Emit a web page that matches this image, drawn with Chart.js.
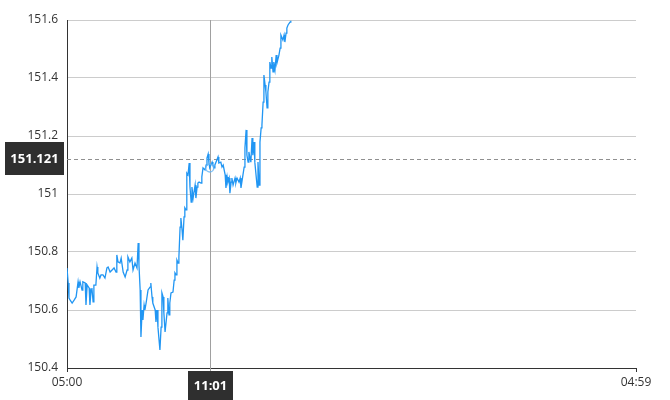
<!DOCTYPE html>
<html>
<head>
<meta charset="utf-8">
<script src="https://cdn.jsdelivr.net/npm/chart.js@4/dist/chart.umd.min.js"></script>
<style>
    html, body { margin: 0; padding: 0; background: #fff; }
    #wrap { width: 670px; height: 400px; }
</style>
</head>
<body>
<div id="wrap"><canvas id="chart"></canvas></div>
<script>
// minutes after 05:00
const minutes = [
    0, 3, 5, 8, 13, 18, 23, 28, 30, 33, 38, 40, 46, 48, 51, 56, 58, 61, 63, 66,
    68, 73, 76, 78, 83, 86, 91, 96, 101, 104, 109, 111, 114, 119, 124, 126, 129, 134, 137, 142,
    147, 152, 154, 159, 164, 167, 172, 177, 180, 182, 185, 187, 190, 192, 195, 197, 200, 205, 210, 212,
    215, 217, 223, 225, 228, 230, 235, 238, 240, 243, 245, 248, 253, 255, 258, 260, 263, 268, 271, 273,
    276, 278, 281, 283, 286, 288, 291, 293, 296, 298, 301, 303, 306, 309, 311, 314, 316, 319, 324, 326,
    329, 331, 334, 339, 341, 344, 349, 352, 354, 357, 359, 361, 367, 369, 372, 374, 379, 382, 384, 389,
    392, 395, 400, 402, 405, 407, 410, 412, 415, 417, 420, 425, 427, 430, 435, 438, 440, 445, 448, 450,
    453, 455, 458, 460, 463, 465, 468, 470, 473, 475, 481, 483, 486, 488, 491, 493, 496, 498, 501, 503,
    506, 508, 511, 513, 516, 518, 521, 523, 526, 529, 531, 536, 539, 541, 546, 549, 551, 554, 556, 559,
    564, 566
];

const prices = [
    150.745, 150.693, 150.641, 150.634, 150.624, 150.634, 150.645, 150.697, 150.676, 150.697,
    150.669, 150.697, 150.693, 150.617, 150.686, 150.676, 150.617, 150.669, 150.676, 150.628,
    150.686, 150.686, 150.748, 150.728, 150.710, 150.721, 150.721, 150.710, 150.745, 150.748,
    150.731, 150.731, 150.738, 150.745, 150.731, 150.790, 150.766, 150.762, 150.779, 150.731,
    150.714, 150.738, 150.783, 150.766, 150.779, 150.738, 150.762, 150.745, 150.831, 150.755,
    150.669, 150.507, 150.600, 150.566, 150.617, 150.600, 150.624, 150.669, 150.679, 150.693,
    150.645, 150.624, 150.600, 150.559, 150.600, 150.541, 150.462, 150.541, 150.659, 150.645,
    150.590, 150.524, 150.590, 150.641, 150.583, 150.624, 150.659, 150.662, 150.703, 150.728,
    150.721, 150.772, 150.762, 150.783, 150.886, 150.917, 150.876, 150.841, 150.921, 150.952,
    150.945, 151.072, 151.066, 151.107, 151.024, 150.972, 151.024, 150.986, 151.031, 150.986,
    151.024, 151.038, 151.041, 151.038, 151.059, 151.090, 151.083, 151.100, 151.124, 151.138,
    151.107, 151.090, 151.110, 151.100, 151.090, 151.100, 151.117, 151.128, 151.107, 151.110,
    151.093, 151.100, 151.066, 151.021, 151.059, 151.041, 151.055, 151.003, 151.041, 151.055,
    151.031, 151.055, 151.038, 151.055, 151.041, 151.055, 151.021, 151.066, 151.093, 151.159,
    151.221, 151.134, 151.110, 151.145, 151.124, 151.110, 151.193, 151.134, 151.179, 151.110,
    151.024, 151.110, 151.031, 151.179, 151.228, 151.238, 151.317, 151.410, 151.376, 151.352,
    151.297, 151.352, 151.386, 151.455, 151.434, 151.472, 151.421, 151.455, 151.428, 151.479,
    151.452, 151.479, 151.503, 151.548, 151.531, 151.548, 151.524, 151.555, 151.572, 151.583,
    151.593, 151.597
];

const xTickValues = [0, 1439];
const xTickLabels = ['05:00', '04:59'];
const yTicks = [150.4, 150.6, 150.8, 151, 151.2, 151.4, 151.6];

// cursor position shown by the crosshair
const cursorMinute = 361;
const cursorPrice = 151.121;
const cursorTimeLabel = '11:01';
const cursorPriceLabel = '151.121';

const FONT = '"Open Sans", "Noto Sans", sans-serif';
const LINE_COLOR = '#2196f3';

const crosshair = {
    id: 'crosshair',
    beforeDatasetsDraw(chart) {
        const { ctx, chartArea, scales } = chart;
        const x = scales.x.getPixelForValue(cursorMinute);
        const y = scales.y.getPixelForValue(cursorPrice);
        ctx.save();
        ctx.lineWidth = 1;
        ctx.strokeStyle = '#a0a0a0';
        ctx.beginPath();
        ctx.moveTo(Math.round(x) + 0.5, chartArea.top);
        ctx.lineTo(Math.round(x) + 0.5, chartArea.bottom + 3);
        ctx.stroke();
        ctx.setLineDash([4, 3]);
        ctx.strokeStyle = '#909090';
        ctx.beginPath();
        ctx.moveTo(chartArea.left, Math.round(y) + 0.5);
        ctx.lineTo(chartArea.right, Math.round(y) + 0.5);
        ctx.stroke();
        ctx.restore();
    },
    afterDraw(chart) {
        const { ctx, chartArea, scales } = chart;
        const x = scales.x.getPixelForValue(cursorMinute);
        const y = scales.y.getPixelForValue(cursorPrice);
        ctx.save();
        ctx.font = 'bold 13px ' + FONT;
        ctx.textAlign = 'center';
        ctx.textBaseline = 'middle';

        // price box on the left
        ctx.fillStyle = '#2f2f2f';
        ctx.fillRect(5, Math.round(y) - 17, 59, 33);
        ctx.fillStyle = '#fff';
        ctx.fillText(cursorPriceLabel, 34.5, Math.round(y));

        // time box under the axis
        ctx.fillStyle = '#2f2f2f';
        ctx.fillRect(Math.round(x) - 22, chartArea.bottom + 3, 45, 32);
        ctx.fillStyle = '#fff';
        ctx.fillText(cursorTimeLabel, Math.round(x) + 0.5, chartArea.bottom + 18);
        ctx.restore();
    }
};

const hoverIndex = minutes.indexOf(cursorMinute);

new Chart(document.getElementById('chart'), {
    type: 'line',
    plugins: [crosshair],
    data: {
        datasets: [{
            data: minutes.map((m, i) => ({ x: m, y: prices[i] })),
            borderColor: LINE_COLOR,
            borderWidth: 1.3,
            tension: 0,
            fill: false,
            pointRadius: ctx => ctx.dataIndex === hoverIndex ? 4 : 0,
            pointBorderWidth: 1.5,
            pointBorderColor: 'rgba(100,180,245,0.8)',
            pointBackgroundColor: 'rgba(255,255,255,0)'
        }]
    },
    options: {
        responsive: true,
        maintainAspectRatio: false,
        animation: false,
        events: [],
        layout: {
            padding: { top: 20, right: 34, left: 0, bottom: 0 }
        },
        plugins: {
            legend: { display: false },
            tooltip: { enabled: false }
        },
        scales: {
            x: {
                type: 'linear',
                min: 0,
                max: 1439,
                afterBuildTicks(scale) {
                    scale.ticks = xTickValues.map(v => ({ value: v }));
                },
                afterFit(scale) {
                    scale.height = 32;
                },
                ticks: {
                    autoSkip: false,
                    maxRotation: 0,
                    padding: 3,
                    color: '#333',
                    font: { family: FONT, size: 12 },
                    callback(value) {
                        return xTickLabels[xTickValues.indexOf(value)];
                    }
                },
                grid: {
                    drawOnChartArea: false,
                    tickLength: 4,
                    color: '#333'
                },
                border: { color: '#333' }
            },
            y: {
                min: 150.4,
                max: 151.6,
                afterBuildTicks(scale) {
                    scale.ticks = yTicks.map(v => ({ value: v }));
                },
                afterFit(scale) {
                    scale.width = 67;
                },
                ticks: {
                    padding: 9,
                    color: '#333',
                    font: { family: FONT, size: 12 },
                    callback(value) {
                        return String(Math.round(value * 10) / 10);
                    }
                },
                grid: {
                    drawTicks: false,
                    color: '#cccccc'
                },
                border: { color: '#333' }
            }
        }
    }
});
</script>
</body>
</html>
